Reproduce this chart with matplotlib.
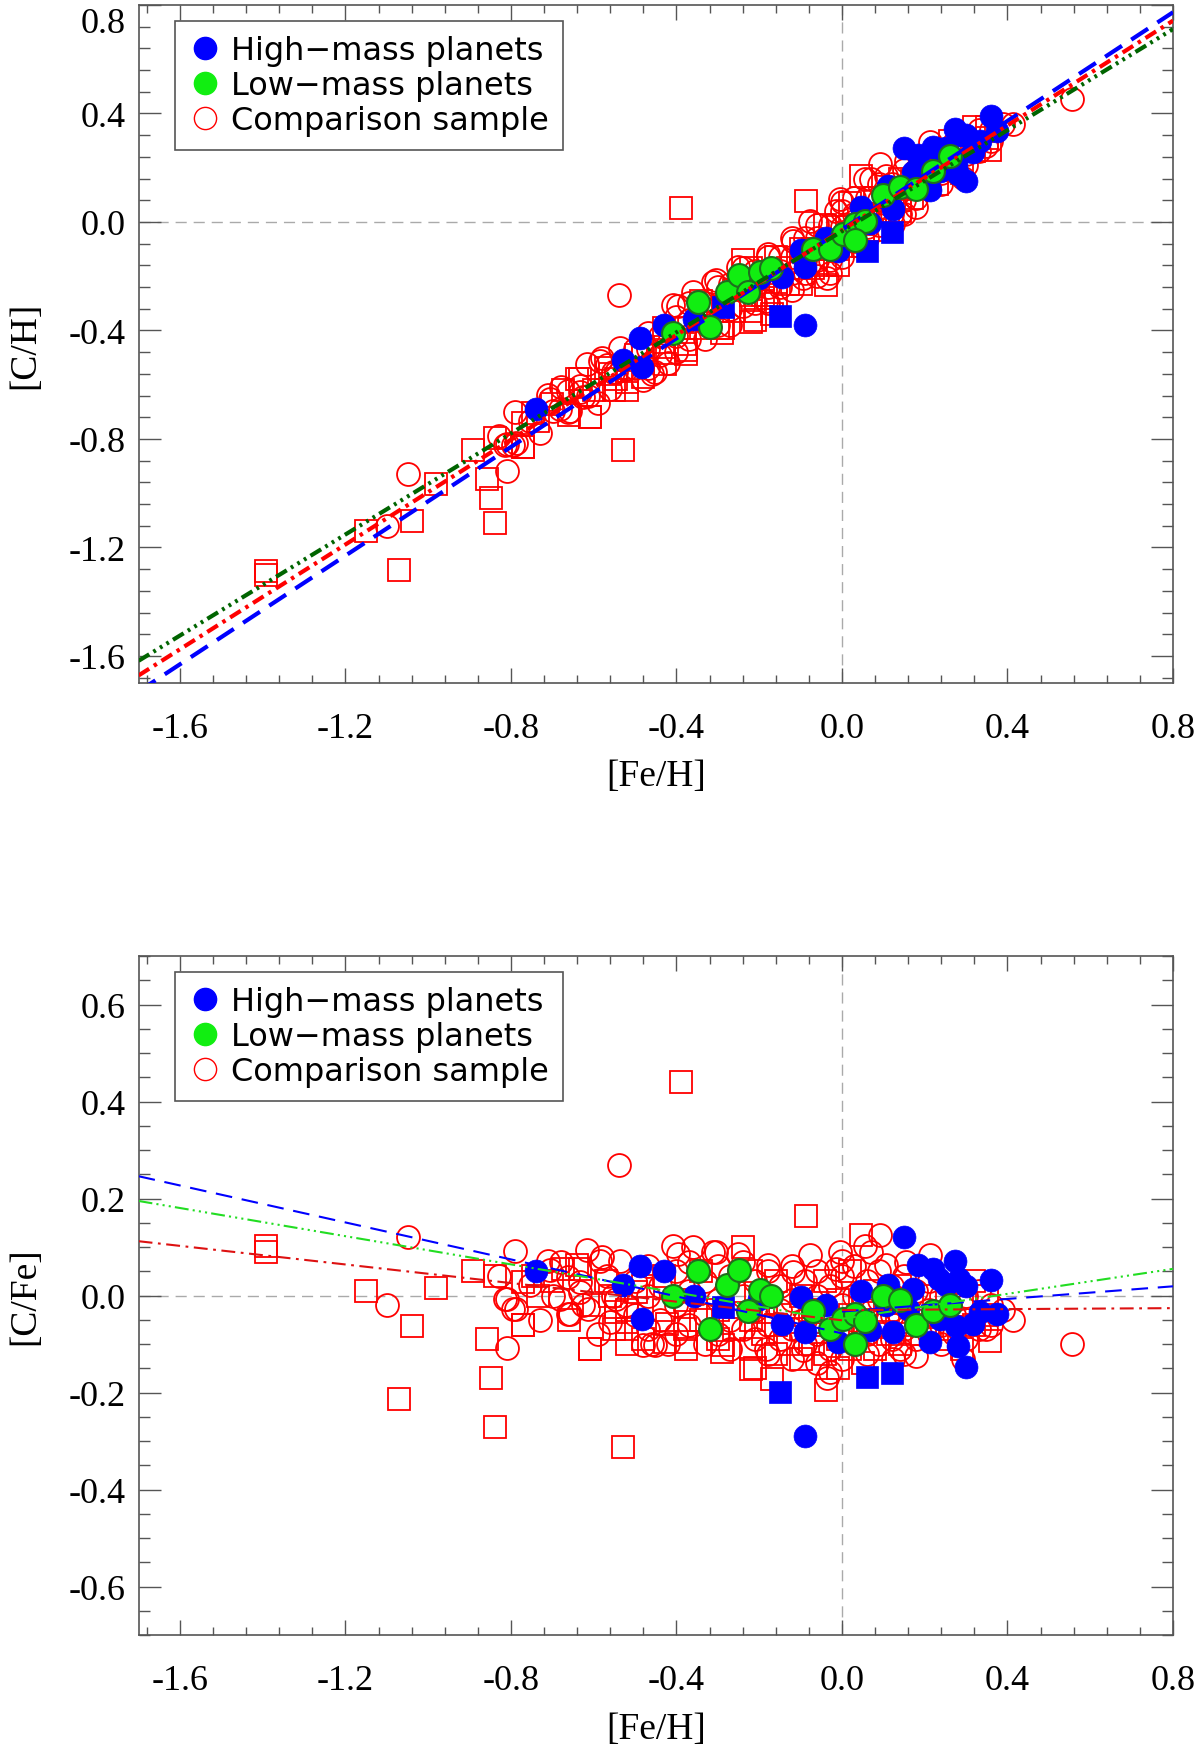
import numpy as np
import matplotlib.pyplot as plt
import matplotlib.transforms as mtransforms
from matplotlib.lines import Line2D
from matplotlib.ticker import MultipleLocator, FormatStrFormatter

plt.rcParams['font.family'] = ['Liberation Serif', 'DejaVu Serif']
plt.rcParams['axes.unicode_minus'] = False
plt.rcParams['lines.scale_dashes'] = False

# ---- data: ([Fe/H], [C/Fe]) pairs ----
# [C/H] for the upper panel is [C/Fe] + [Fe/H]
high_circles = [
    (-0.74, 0.050), (-0.53, 0.021), (-0.489, 0.061), (-0.484, -0.049),
    (-0.43, 0.051), (-0.357, 0.000), (-0.20, -0.008), (-0.145, -0.058),
    (-0.10, -0.003), (-0.09, -0.075), (-0.038, -0.020), (-0.010, -0.096),
    (-0.09, -0.290), (0.045, 0.010), (0.067, -0.072), (0.110, 0.021),
    (0.107, -0.020), (0.123, -0.075), (0.151, 0.120), (0.160, -0.027),
    (0.184, 0.062), (0.212, -0.095), (0.220, 0.055), (0.236, -0.048),
    (0.234, 0.034), (0.252, 0.021), (0.272, 0.072), (0.280, -0.105),
    (0.284, 0.035), (0.276, -0.062), (0.300, 0.020), (0.300, -0.148),
    (0.317, -0.058), (0.333, -0.034), (0.361, 0.031), (0.375, -0.039),
    (0.171, 0.014),
]
high_squares = [(-0.288, -0.024), (-0.149, -0.199), (0.060, -0.168), (0.122, -0.159)]

low_circles = [
    (-0.408, 0.000), (-0.347, 0.050), (-0.319, -0.070), (-0.279, 0.021),
    (-0.248, 0.052), (-0.227, -0.031), (-0.198, 0.012), (-0.171, 0.000),
    (-0.070, -0.031), (-0.030, -0.069), (0.002, -0.048), (0.031, -0.038),
    (0.055, -0.053), (0.031, -0.099), (0.099, 0.000), (0.139, -0.010),
    (0.180, -0.060), (0.220, -0.031), (0.262, -0.020),
]

comp_circles = [
    (-1.05, 0.120), (-1.10, -0.020), (-0.81, -0.108), (-0.54, 0.270), (0.555, -0.100),
    (-0.79, 0.091), (-0.83, 0.040), (-0.81, -0.008), (-0.787, -0.027), (-0.73, -0.050),
    (-0.706, 0.052), (-0.682, -0.007), (-0.658, -0.038), (-0.617, 0.093), (-0.585, 0.072),
    (-0.537, 0.072), (-0.589, -0.079), (-0.561, -0.055), (-0.634, 0.007), (-0.626, -0.020),
    (-0.553, 0.000), (-0.481, -0.103), (-0.71, 0.072), (-0.678, 0.069), (-0.581, 0.079),
    (-0.408, 0.103), (-0.36, 0.100), (-0.311, 0.089), (-0.251, 0.086), (-0.396, 0.086),
    (-0.662, 0.038), (-0.698, 0.000), (-0.815, -0.007), (-0.794, -0.027), (-0.662, -0.038),
    (-0.613, -0.027), (-0.521, -0.020), (-0.46, -0.100), (-0.42, -0.100), (-0.545, -0.007),
    (-0.633, 0.028), (-0.569, 0.041), (-0.754, 0.021), (-0.452, -0.103),
    (0.091, 0.124), (0.055, 0.103), (0.071, 0.089), (-0.078, 0.083), (0.212, 0.083),
    (0.413, -0.051), (0.000, 0.072), (-0.014, 0.055), (0.349, -0.069), (0.292, -0.130),
    (-0.030, -0.158), (-0.094, -0.113), (0.139, -0.110), (0.180, -0.124), (0.123, -0.130),
    (-0.183, -0.110), (-0.179, 0.062), (-0.118, 0.048), (0.107, 0.062), (0.155, 0.069),
    (-0.304, 0.090), (-0.004, 0.090), (-0.037, -0.170),
    # dense core
    (-0.50, 0.03), (-0.50, -0.04), (-0.47, 0.06), (-0.47, -0.07), (-0.47, 0.00),
    (-0.44, 0.02), (-0.44, -0.05), (-0.40, 0.05), (-0.40, -0.02), (-0.40, -0.08),
    (-0.37, 0.07), (-0.37, 0.01), (-0.37, -0.06), (-0.33, 0.03), (-0.33, -0.04),
    (-0.33, -0.10), (-0.30, 0.06), (-0.30, -0.01), (-0.30, -0.08), (-0.27, 0.04),
    (-0.27, -0.05), (-0.27, -0.11), (-0.24, 0.07), (-0.24, 0.00), (-0.24, -0.07),
    (-0.21, 0.03), (-0.21, -0.03), (-0.21, -0.09), (-0.18, 0.05), (-0.18, -0.06),
    (-0.18, -0.12), (-0.15, 0.02), (-0.15, -0.03), (-0.15, -0.09), (-0.12, 0.06),
    (-0.12, -0.01), (-0.12, -0.07), (-0.12, -0.13), (-0.09, 0.03), (-0.09, -0.05),
    (-0.09, -0.10), (-0.06, 0.05), (-0.06, 0.00), (-0.06, -0.08), (-0.06, -0.14),
    (-0.03, 0.02), (-0.03, -0.04), (-0.03, -0.11), (0.00, 0.04), (0.00, -0.02),
    (0.00, -0.07), (0.00, -0.13), (0.03, 0.06), (0.03, 0.00), (0.03, -0.05),
    (0.03, -0.10), (0.06, 0.03), (0.06, -0.03), (0.06, -0.08), (0.06, -0.12),
    (0.09, 0.05), (0.09, -0.01), (0.09, -0.06), (0.09, -0.10), (0.12, 0.02),
    (0.12, -0.04), (0.12, -0.09), (0.15, 0.04), (0.15, -0.02), (0.15, -0.07),
    (0.15, -0.12), (0.18, 0.01), (0.18, -0.05), (0.18, -0.09), (0.21, 0.03),
    (0.21, -0.03), (0.21, -0.08), (0.24, 0.00), (0.24, -0.06), (0.24, -0.10),
    (0.27, 0.02), (0.27, -0.04), (0.27, -0.08), (0.30, 0.00), (0.30, -0.05),
    (0.30, -0.09), (0.33, 0.01), (0.33, -0.07), (0.36, -0.02), (0.36, -0.06),
    (0.39, -0.03),
]

comp_squares = [
    (-1.391, 0.103), (-1.391, 0.089), (-1.151, 0.010), (-0.982, 0.015), (-1.040, -0.063),
    (-1.070, -0.213), (-0.859, -0.089), (-0.849, -0.170), (-0.839, -0.271), (-0.529, -0.313),
    (-0.891, 0.050), (-0.839, 0.041), (-0.771, -0.060), (-0.609, -0.110), (-0.519, -0.100),
    (-0.674, 0.055), (-0.634, 0.055), (-0.771, 0.028), (-0.545, -0.034), (-0.561, 0.000),
    (-0.497, 0.007), (-0.734, 0.000), (-0.239, 0.100), (-0.376, -0.096), (-0.291, -0.117),
    (-0.219, -0.151), (-0.641, 0.062), (-0.746, 0.041), (-0.424, -0.058), (-0.388, 0.440),
    (-0.086, 0.165), (0.045, 0.124), (-0.378, -0.110), (-0.288, -0.103), (-0.210, -0.150),
    (-0.168, -0.172), (-0.038, -0.195), (0.357, -0.093), (-0.427, -0.096),
    # dense core
    (-0.52, -0.03), (-0.52, -0.07), (-0.48, 0.02), (-0.48, -0.09), (-0.43, -0.03),
    (-0.43, 0.04), (-0.38, -0.01), (-0.38, -0.07), (-0.34, 0.05), (-0.34, -0.05),
    (-0.30, -0.03), (-0.30, -0.09), (-0.26, 0.01), (-0.26, -0.07), (-0.22, -0.05),
    (-0.22, -0.11), (-0.22, 0.05), (-0.19, -0.02), (-0.19, -0.08), (-0.16, 0.03),
    (-0.16, -0.06), (-0.16, -0.12), (-0.13, -0.04), (-0.13, -0.10), (-0.10, 0.00),
    (-0.10, -0.07), (-0.10, -0.13), (-0.07, -0.03), (-0.07, -0.10), (-0.04, 0.03),
    (-0.04, -0.06), (-0.04, -0.12), (-0.01, -0.01), (-0.01, -0.09), (-0.01, -0.15),
    (0.02, 0.05), (0.02, -0.04), (0.02, -0.11), (0.05, -0.02), (0.05, -0.08),
    (0.05, -0.14), (0.08, 0.01), (0.08, -0.05), (0.08, -0.11), (0.11, -0.03),
    (0.11, -0.08), (0.14, 0.02), (0.14, -0.06), (0.14, -0.10), (0.17, -0.02),
    (0.17, -0.08), (0.20, 0.00), (0.20, -0.06), (0.23, -0.04), (0.23, -0.09),
    (0.26, 0.04), (0.26, -0.07), (0.29, -0.02), (0.29, -0.11), (0.32, 0.03),
    (0.32, -0.06), (0.35, -0.04), (0.35, 0.00),
    (-0.70, 0.03), (-0.66, -0.05), (-0.60, -0.02), (-0.57, 0.03), (-0.55, -0.07),
    (-0.77, -0.06), (-0.61, -0.11),
]

# linear fits, [C/H] vs [Fe/H] (upper panel)
fit_feh = [-1.7, 0.8]
ch_fit_high = [-1.731, 0.773]
ch_fit_comp = [-1.672, 0.742]
ch_fit_low = [-1.618, 0.711]

# [C/Fe] fits, separate below and above solar (lower panel)
fit_feh_neg = [-1.7, 0.0]
fit_feh_pos = [0.0, 0.8]
cfe_fit_high_neg = [0.246, -0.078]
cfe_fit_high_pos = [-0.033, 0.019]
cfe_fit_low_neg = [0.195, -0.052]
cfe_fit_low_pos = [-0.048, 0.055]
cfe_fit_comp_neg = [0.112, -0.051]
cfe_fit_comp_pos = [-0.030, -0.026]

MS = 16.5
AXCOL = '#555555'
GREEN_FILL = '#11ee11'
GREEN_EDGE = '#1e6e1e'


def split(pairs, upper):
    arr = np.array(pairs)
    fe, cfe = arr[:, 0], arr[:, 1]
    return (fe, cfe + fe) if upper else (fe, cfe)


def draw_points(ax, upper):
    x, y = split(comp_circles, upper)
    ax.plot(x, y, ls='none', marker='o', ms=MS, mfc='none', mec='red', mew=1.3, zorder=2)
    x, y = split(comp_squares, upper)
    ax.plot(x, y, ls='none', marker='s', ms=MS, mfc='none', mec='red', mew=1.3, zorder=2)
    x, y = split(high_circles, upper)
    ax.plot(x, y, ls='none', marker='o', ms=MS, mfc='blue', mec='blue', mew=0.5, zorder=3)
    x, y = split(high_squares, upper)
    ax.plot(x, y, ls='none', marker='s', ms=MS, mfc='blue', mec='blue', mew=0.5, zorder=3)
    x, y = split(low_circles, upper)
    ax.plot(x, y, ls='none', marker='o', ms=MS, mfc=GREEN_FILL, mec=GREEN_EDGE, mew=1.5, zorder=4)


def style_axes(ax, ylim, ymajor, yminor, ylabel):
    ax.set_xlim(-1.7, 0.8)
    ax.set_ylim(*ylim)
    ax.xaxis.set_major_locator(MultipleLocator(0.4))
    ax.xaxis.set_minor_locator(MultipleLocator(0.08))
    ax.yaxis.set_major_locator(MultipleLocator(ymajor))
    ax.yaxis.set_minor_locator(MultipleLocator(yminor))
    ax.xaxis.set_major_formatter(FormatStrFormatter('%.1f'))
    ax.yaxis.set_major_formatter(FormatStrFormatter('%.1f'))
    ax.tick_params(which='both', direction='in', top=True, right=True,
                   color=AXCOL, width=1.0, labelsize=26, labelcolor='black')
    ax.tick_params(axis='x', which='major', length=10.8, pad=21)
    ax.tick_params(axis='x', which='minor', length=5.8)
    ax.tick_params(axis='y', which='major', length=15.6, pad=9)
    ax.tick_params(axis='y', which='minor', length=7.7)
    for sp in ax.spines.values():
        sp.set_color(AXCOL)
        sp.set_linewidth(1.2)
    ax.axhline(0, color='#aaaaaa', lw=1.0, dashes=(8, 5), zorder=1)
    ax.axvline(0, color='#aaaaaa', lw=1.0, dashes=(8, 5), zorder=1)
    ax.set_xlabel('[Fe/H]', fontsize=27)
    ax.set_ylabel(ylabel, fontsize=27)
    ax.xaxis.set_label_coords(0.5, -0.112)
    ax.yaxis.set_label_coords(-0.093, 0.5)

    handles = [
        Line2D([0], [0], ls='none', marker='o', ms=16, mfc='blue', mec='blue'),
        Line2D([0], [0], ls='none', marker='o', ms=16, mfc=GREEN_FILL, mec=GREEN_FILL),
        Line2D([0], [0], ls='none', marker='o', ms=16, mfc='none', mec='red', mew=1.0),
    ]
    labels = ['High\u2212mass planets', 'Low\u2212mass planets', 'Comparison sample']
    leg = ax.legend(handles, labels, loc='upper left', bbox_to_anchor=(0.0352, 0.9764),
                    borderaxespad=0, frameon=True, fancybox=False, framealpha=1,
                    edgecolor=AXCOL, handlelength=1.0, handletextpad=0.3,
                    borderpad=0.45, labelspacing=0.12,
                    prop={'family': 'DejaVu Sans', 'size': 23})
    leg.get_frame().set_linewidth(1.2)


fig = plt.figure(figsize=(12, 17.49), dpi=100)

# ---- upper panel: [C/H] vs [Fe/H] ----
ax1 = fig.add_axes([0.1155, 0.6089, 0.862, 0.3877])
draw_points(ax1, upper=True)
ax1.plot(fit_feh, ch_fit_high, color='blue', lw=3, dashes=(14.5, 8), zorder=5)
ax1.plot(fit_feh, ch_fit_comp, color='red', lw=3, dashes=(9, 4, 2.5, 4), zorder=5)
ax1.plot(fit_feh, ch_fit_low, color='#006400', lw=3,
         dashes=(9, 3.5, 2, 3.5, 2, 3.5, 2, 3.5), zorder=5)
style_axes(ax1, (-1.7, 0.8), 0.4, 0.08, '[C/H]')

# the 0.8 label hangs just below the top frame edge
ax1.yaxis.get_majorticklabels()
drop = mtransforms.ScaledTranslation(0, -0.15, fig.dpi_scale_trans)
for tick in ax1.yaxis.get_major_ticks():
    if abs(tick.get_loc() - 0.8) < 1e-6:
        tick.label1.set_transform(tick.label1.get_transform() + drop)

# ---- lower panel: [C/Fe] vs [Fe/H] ----
ax2 = fig.add_axes([0.1155, 0.0646, 0.862, 0.3882])
draw_points(ax2, upper=False)
for xs, ys in [(fit_feh_neg, cfe_fit_high_neg), (fit_feh_pos, cfe_fit_high_pos)]:
    ax2.plot(xs, ys, color='blue', lw=1.5, dashes=(12, 7), zorder=5)
for xs, ys in [(fit_feh_neg, cfe_fit_low_neg), (fit_feh_pos, cfe_fit_low_pos)]:
    ax2.plot(xs, ys, color='#22dd22', lw=1.5, dashes=(10, 3, 1.5, 3, 1.5, 3, 1.5, 3), zorder=5)
for xs, ys in [(fit_feh_neg, cfe_fit_comp_neg), (fit_feh_pos, cfe_fit_comp_pos)]:
    ax2.plot(xs, ys, color='#dd1111', lw=1.5, dashes=(10, 4, 2, 4), zorder=5)
style_axes(ax2, (-0.7, 0.7), 0.2, 0.05, '[C/Fe]')

fig.savefig('out.png', dpi=100)
